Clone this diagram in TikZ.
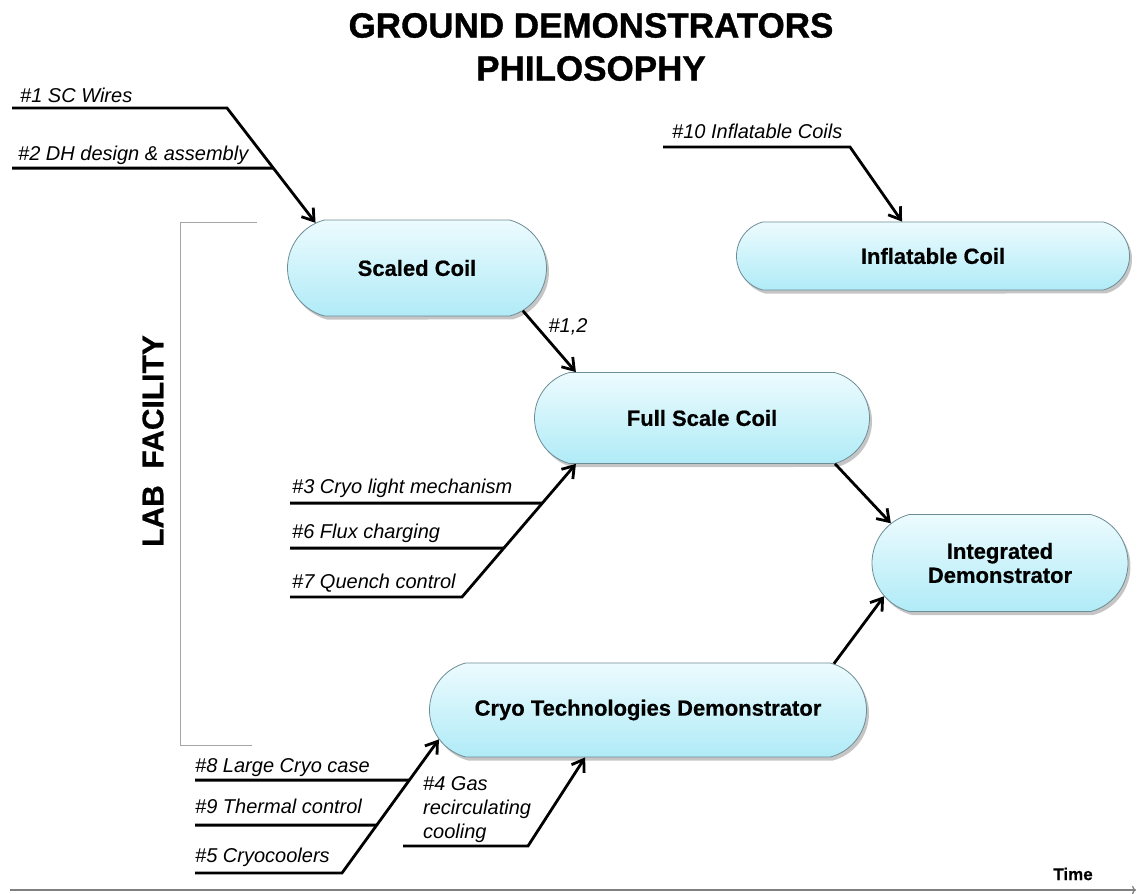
\documentclass[tikz,border=0pt]{standalone}
\usepackage{fontspec}
\setmainfont{Liberation Sans}
\usetikzlibrary{shapes.misc, arrows.meta, shadows}

\definecolor{coiltop}{RGB}{236,251,254}
\definecolor{coilbot}{RGB}{176,235,247}
\definecolor{coilrim}{RGB}{110,140,150}

\tikzset{
  coil/.style={rounded rectangle, rounded rectangle arc length=150, draw=coilrim, line width=0.8pt,
    top color=coiltop, bottom color=coilbot,
    drop shadow={shadow xshift=2.5pt, shadow yshift=-3.5pt, opacity=0.45},
    font=\fontsize{22}{24}\selectfont\bfseries\addfontfeatures{FakeBold=0.6},
    align=center, inner sep=0pt},
  tag/.style={font=\fontsize{20}{24}\selectfont\itshape, inner sep=0pt},
  wire/.style={line width=3pt},
  feed/.style={line width=2.8pt, -{Straight Barb[length=11pt, width=15pt]}},
}

\begin{document}
\begin{tikzpicture}[x=1pt, y=-1pt]
  \fill[white] (0,0) rectangle (1138,894);
  \useasboundingbox (0,0) rectangle (1138,894);

  % title
  \node[font=\fontsize{35}{43}\selectfont\bfseries\addfontfeatures{FakeBold=1}, align=center] (title) at (591,47) {GROUND DEMONSTRATORS\\PHILOSOPHY};

  % lab facility bracket
  \draw[gray!70, line width=1pt] (257,222) -- (180,222) -- (180,745) -- (252,745);
  \node[rotate=90, font=\fontsize{30}{30}\selectfont\bfseries\addfontfeatures{FakeBold=0.6}] (lab) at (153,441) {LAB\ \ FACILITY};

  % demonstrators
  \node[coil, minimum width=259pt, minimum height=96pt] (scaled) at (417,268) {Scaled Coil};
  \node[coil, minimum width=393pt, minimum height=68pt] (inflat) at (933,256) {Inflatable Coil};
  \node[coil, minimum width=335pt, minimum height=91pt] (full) at (702,418) {Full Scale Coil};
  \node[coil, minimum width=256pt, minimum height=97pt] (integ) at (1000,563) {Integrated\\Demonstrator};
  \node[coil, minimum width=437pt, minimum height=94pt] (cryo) at (648,710) {Cryo Technologies Demonstrator};

  % flow between demonstrators
  \draw[feed] (scaled.-22) -- (full.160);
  \node[tag] (t12) at (568,327) {\#1,2};
  \draw[feed] (full.-19) -- (integ.160);
  \draw[feed] (cryo.14) -- (integ.196);

  % inputs #1, #2
  \coordinate (w1) at (12,108);
  \coordinate (b1) at (227,108);
  \coordinate (w2) at (12,168);
  \coordinate (r2) at (400,168);
  \draw[feed] (w1) -- (b1) -- (scaled.156);
  \draw[wire] (w2) -- (intersection of w2--r2 and b1--scaled.156);
  \node[tag, anchor=base west] (t1) at (20,102) {\#1 SC Wires};
  \node[tag, anchor=base west] (t2) at (18,160) {\#2 DH design \& assembly};

  % input #10
  \coordinate (w10) at (663,147);
  \coordinate (b10) at (850,147);
  \draw[feed] (w10) -- (b10) -- (inflat.132);
  \node[tag, anchor=base west] (t10) at (672,138) {\#10 Inflatable Coils};

  % inputs #3, #6, #7
  \coordinate (w7) at (290,597);
  \coordinate (b7) at (462,597);
  \coordinate (w3) at (290,503);
  \coordinate (r3) at (700,503);
  \coordinate (w6) at (290,548);
  \coordinate (r6) at (700,548);
  \draw[feed] (w7) -- (b7) -- (full.200);
  \draw[wire] (w3) -- (intersection of w3--r3 and b7--full.200);
  \draw[wire] (w6) -- (intersection of w6--r6 and b7--full.200);
  \node[tag, anchor=base west] (t3) at (292,493) {\#3 Cryo light mechanism};
  \node[tag, anchor=base west] (t6) at (292,538) {\#6 Flux charging};
  \node[tag, anchor=base west] (t7) at (292,588) {\#7 Quench control};

  % inputs #8, #9, #5
  \coordinate (w5) at (195,873);
  \coordinate (b5) at (342,873);
  \coordinate (w8) at (195,780);
  \coordinate (r8) at (600,780);
  \coordinate (w9) at (195,825);
  \coordinate (r9) at (600,825);
  \draw[feed] (w5) -- (b5) -- (cryo.188);
  \draw[wire] (w8) -- (intersection of w8--r8 and b5--cryo.188);
  \draw[wire] (w9) -- (intersection of w9--r9 and b5--cryo.188);
  \node[tag, anchor=base west] (t8) at (195,772) {\#8 Large Cryo case};
  \node[tag, anchor=base west] (t9) at (195,813) {\#9 Thermal control};
  \node[tag, anchor=base west] (t5) at (195,862) {\#5 Cryocoolers};

  % input #4
  \coordinate (w4) at (403,846);
  \coordinate (b4) at (528,846);
  \draw[feed] (w4) -- (b4) -- (cryo.217);
  \node[tag, anchor=north west, align=left] (t4) at (423,776) {\#4 Gas\\recirculating\\cooling};

  % time axis
  \coordinate (t0) at (10,890);
  \coordinate (t1e) at (1136,890);
  \draw[gray, line width=1.3pt, -{To[length=4pt]}] (t0) -- (t1e);
  \node[font=\fontsize{17}{17}\selectfont\bfseries\addfontfeatures{FakeBold=0.5}] (time) at (1073,874) {Time};
\end{tikzpicture}
\end{document}
